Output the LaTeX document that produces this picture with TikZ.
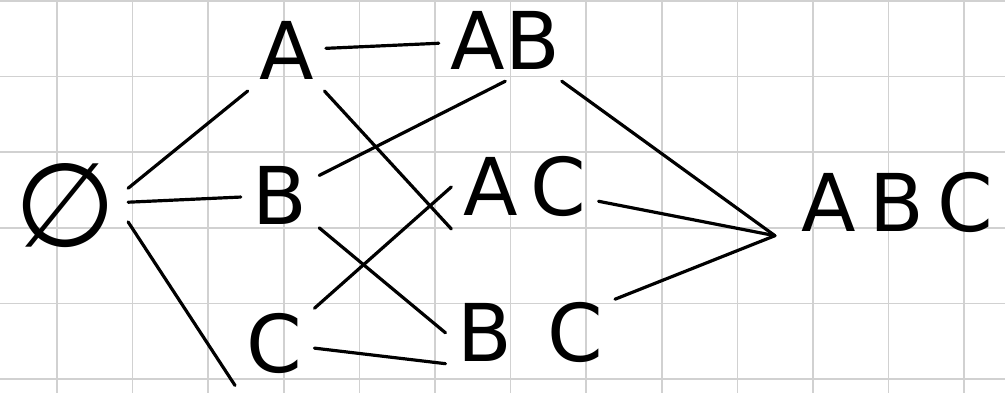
\documentclass[tikz,border=0pt]{standalone}
\usepackage{fontspec}
\setmainfont{DejaVu Sans}
\usetikzlibrary{positioning}

\begin{document}
\begin{tikzpicture}[font=\fontsize{30}{36}\selectfont,line cap=round,
   set/.style={inner sep=1.5mm},
   edge/.style={line width=1.2pt}]
  \useasboundingbox (-0.754,-0.185) rectangle (12.54,5.013);
  \draw[black!18,line width=0.6pt] (-0.754,-0.185) grid (12.54,5.013);
  % subsets of {A,B,C}
  \node[set] (e) at (0.11,2.30) {\fontsize{44}{50}\selectfont ∅};
  \node[set] (a) at (3.04,4.35) {A};
  \node[set] (b) at (2.95,2.43) {B};
  \node[set] (c) at (2.88,0.47) {C};
  \node[set] (ab) at (5.93,4.48) {AB};
  \node[set] (ac) at (6.19,2.54) {A\,C};
  \node[set] (bc) at (6.26,0.61) {B\;\,C};
  \node[set,inner xsep=3.5mm] (abc) at (11.12,2.33) {A\,B\,C};
  % inclusions
  \draw[edge] (e.15) -- (a.south west);
  \draw[edge] (e) -- (b);
  \draw[edge] (e.-15) -- (c.south west);
  \draw[edge] (a) -- (ab);
  \draw[edge] (a) -- (ac.south west);
  \draw[edge] (b) -- (ab.south);
  \draw[edge] (b) -- (bc.west);
  \draw[edge] (c) -- (ac.west);
  \draw[edge] (c) -- (bc.200);
  \draw[edge] (ab) -- (abc.195);
  \draw[edge] (ac) -- (abc.195);
  \draw[edge] (bc) -- (abc.195);
\end{tikzpicture}
\end{document}
